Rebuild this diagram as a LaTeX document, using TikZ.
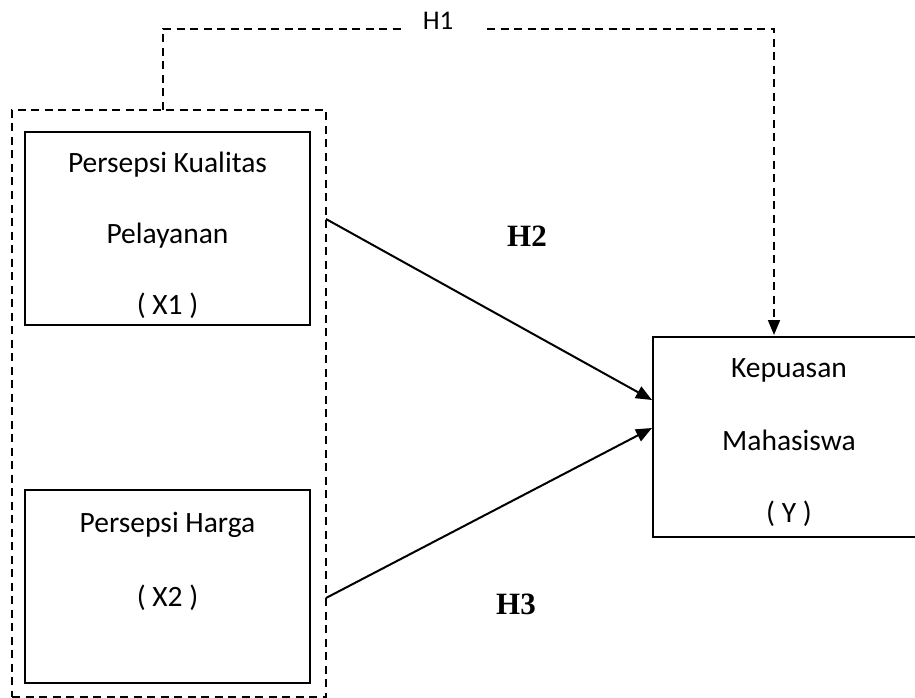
\documentclass[tikz,border=0pt]{standalone}
\usepackage{fontspec}
\setmainfont{Carlito}
\newfontfamily\hfont{Liberation Serif}
\usetikzlibrary{arrows.meta,calc}
\begin{document}
\begin{tikzpicture}[x=1pt,y=-1pt,
  solidbox/.style={draw,line width=2pt,minimum width=285pt,minimum height=193pt,inner sep=0pt},
  grpbox/.style={draw,line width=1.7pt,dash pattern=on 8pt off 5.5pt,inner sep=0pt},
  dashline/.style={line width=1.7pt,dash pattern=on 8pt off 5.5pt},
  txt/.style={font=\fontsize{29.5}{31}\selectfont,inner sep=0pt,anchor=base},
  hlab/.style={font=\hfont\bfseries\fontsize{31}{33}\selectfont,inner sep=0pt},
  arr/.style={line width=2pt,-{Triangle[length=16pt,width=13pt]}}]
\useasboundingbox (0,0) rectangle (915,698);
\fill[white] (0,0) rectangle (915,698);
% group box
\node[grpbox,minimum width=314pt,minimum height=587pt] (grp) at (169,403.5) {};
% boxes
\node[solidbox] (x1) at (167.5,228.5) {};
\node[solidbox] (x2) at (167.5,586.5) {};
\node[draw,line width=2pt,minimum width=272pt,minimum height=200pt,inner sep=0pt] (yb) at (789,437) {};
% texts
\node[txt] (t1a) at (167.5,172) {Persepsi Kualitas};
\node[txt] (t1b) at (167.5,243) {Pelayanan};
\node[txt] (t1c) at (167.5,314) {( X1 )};
\node[txt] (t2a) at (167.5,532) {Persepsi Harga};
\node[txt] (t2b) at (167.5,606) {( X2 )};
\node[txt] (tya) at (789,377) {Kepuasan};
\node[txt] (tyb) at (789,450) {Mahasiswa};
\node[txt] (tyc) at (789,522) {( Y )};
% H1 path
\node[font=\fontsize{27}{29}\selectfont,inner sep=0pt,anchor=base] (h1) at (438,30) {H1};
\coordinate (h1a) at (163,110);
\coordinate (h1b) at (402,29);
\coordinate (h1c) at (487,29);
\coordinate (h1d) at (774,335);
\draw[dashline] (h1a) |- (h1b);
\draw[dashline,-{Triangle[length=15pt,width=12pt]}] (h1c) -| (h1d);
% H2 / H3
\coordinate (s2) at (326,219);
\coordinate (e2) at (652,400);
\coordinate (s3) at (326,598);
\coordinate (e3) at (652,428);
\draw[arr] (s2) -- (e2);
\draw[arr] (s3) -- (e3);
\node[hlab] (h2) at (527,236) {H2};
\node[hlab] (h3) at (516,604) {H3};
\end{tikzpicture}
\end{document}
